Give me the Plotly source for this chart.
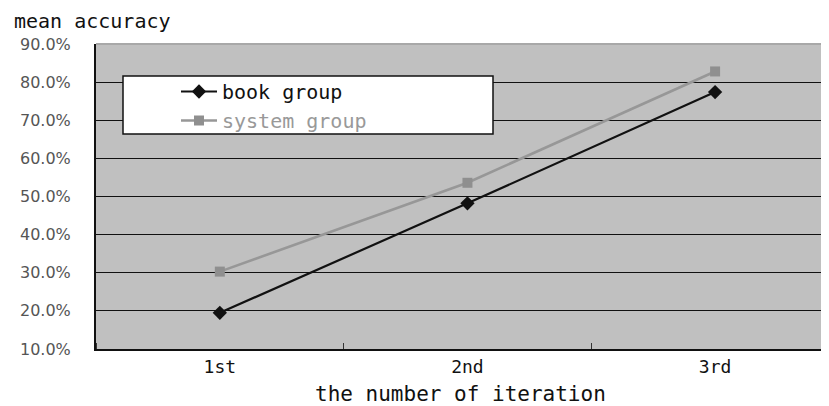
import plotly.graph_objects as go

categories = ["1st", "2nd", "3rd"]
book_group = [19.5, 48.2, 77.4]
system_group = [30.3, 53.6, 82.8]
y_ticks = [10, 20, 30, 40, 50, 60, 70, 80, 90]
y_tick_labels = ["10.0%", "20.0%", "30.0%", "40.0%", "50.0%", "60.0%", "70.0%", "80.0%", "90.0%"]

xpos = list(range(len(categories)))
mono = "DejaVu Sans Mono"

OFF = 8  # default page body margin
W, H = 829 - OFF, 406 - OFF
L, T = 96 - OFF, 44 - OFF
BOTTOM = 349 - OFF
B = H - BOTTOM
pw, ph = W - L, BOTTOM - T


def px_x(x):
    return (x - OFF - L) / pw


def px_y(y):
    return (BOTTOM - (y - OFF)) / ph


fig = go.Figure()
fig.add_trace(go.Scatter(
    x=xpos, y=book_group, name="book group", mode="lines+markers",
    line=dict(color="#111111", width=2.2),
    marker=dict(symbol="diamond", size=11, color="#111111"),
))
fig.add_trace(go.Scatter(
    x=xpos, y=system_group, name="<span style='color:#999999'>system group</span>",
    mode="lines+markers",
    line=dict(color="#979797", width=2.6),
    marker=dict(symbol="square", size=10, color="#8f8f8f"),
))

fig.update_layout(
    width=W, height=H,
    margin=dict(l=L, r=0, t=T, b=B, autoexpand=False),
    paper_bgcolor="white",
    plot_bgcolor="#c0c0c0",
    showlegend=True,
    legend=dict(
        x=px_x(176), y=px_y(72), xanchor="left", yanchor="top",
        bgcolor="rgba(0,0,0,0)", borderwidth=0,
        font=dict(family=mono, size=20, color="#111111"),
        itemwidth=36, tracegroupgap=0,
    ),
    xaxis=dict(
        range=[-0.5, 2.46], automargin=False,
        tickvals=xpos, ticktext=categories,
        showgrid=False, zeroline=False,
        showline=True, linecolor="#111111", linewidth=2,
        ticks="", tickfont=dict(family=mono, size=18, color="#111111"),
        minor=dict(tick0=0.5, dtick=1, ticks="inside", ticklen=6, tickcolor="#333333", showgrid=False),
    ),
    yaxis=dict(
        range=[10, 90], automargin=False,
        tickvals=y_ticks, ticktext=y_tick_labels,
        showgrid=True, gridcolor="#111111", gridwidth=1.4,
        zeroline=False,
        showline=True, linecolor="#111111", linewidth=2,
        ticks="", ticklabelstandoff=20,
        tickfont=dict(family="DejaVu Sans", size=16, color="#555555"),
    ),
)

fig.add_shape(type="rect", xref="paper", yref="paper",
              x0=px_x(123), x1=px_x(493), y0=px_y(134), y1=px_y(76),
              fillcolor="white", line=dict(color="#111111", width=1.5), layer="above")
fig.add_shape(type="line", xref="x domain", yref="y domain", x0=0, x1=1, y0=1, y1=1,
              line=dict(color="#a8a8a8", width=2), layer="above")

fig.add_annotation(text="mean accuracy", xref="paper", yref="paper",
                   x=px_x(12), y=px_y(21), xanchor="left", yanchor="middle",
                   showarrow=False, font=dict(family=mono, size=20, color="#111111"))
fig.add_annotation(text="the number of iteration", xref="paper", yref="paper",
                   x=px_x(460), y=px_y(394), xanchor="center", yanchor="middle",
                   showarrow=False, font=dict(family=mono, size=21, color="#111111"))

fig.write_html("out.html")
